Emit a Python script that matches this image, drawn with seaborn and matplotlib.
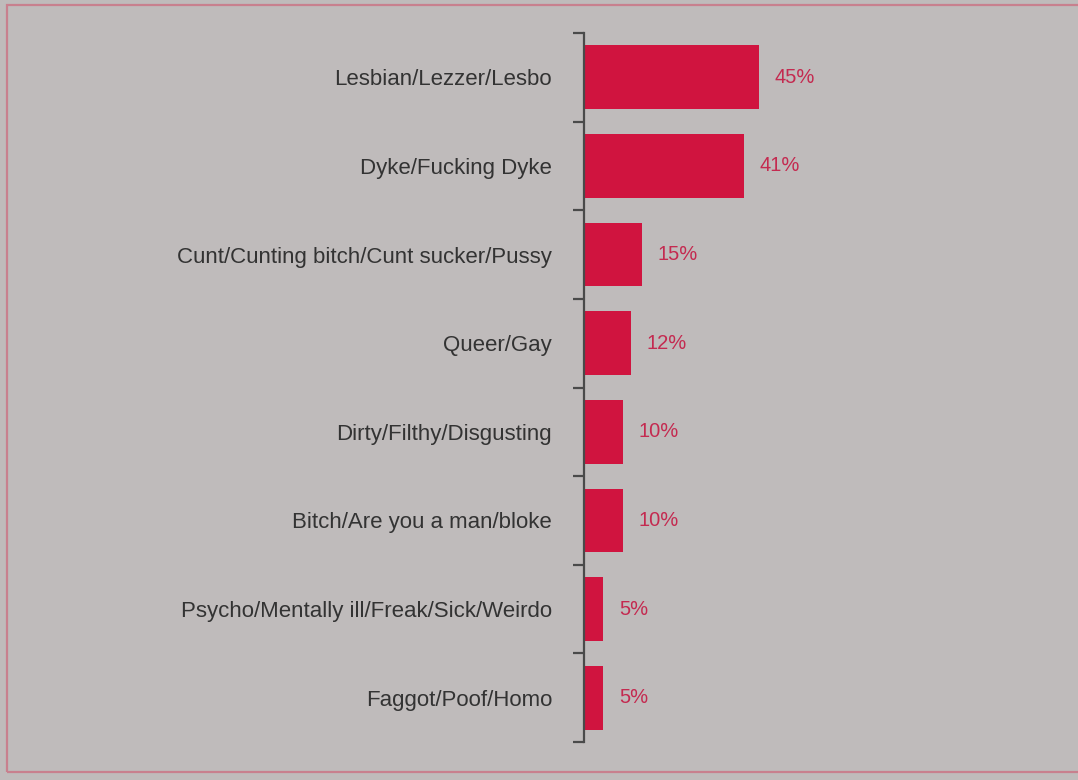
import matplotlib
matplotlib.use("Agg")
import matplotlib.pyplot as plt
from matplotlib.patches import Rectangle
import pandas as pd
import seaborn as sns

categories = [
    "Lesbian/Lezzer/Lesbo",
    "Dyke/Fucking Dyke",
    "Cunt/Cunting bitch/Cunt sucker/Pussy",
    "Queer/Gay",
    "Dirty/Filthy/Disgusting",
    "Bitch/Are you a man/bloke",
    "Psycho/Mentally ill/Freak/Sick/Weirdo",
    "Faggot/Poof/Homo",
]
percent = [45, 41, 15, 12, 10, 10, 5, 5]

bg = "#bfbbbb"
bar_red = "#d0143f"
text_red = "#c42a50"

sns.set_style("white")
plt.rcParams["font.family"] = ["Liberation Sans", "DejaVu Sans"]

df = pd.DataFrame({"Category": categories, "Percent": percent})

fig = plt.figure(figsize=(10.78, 7.8), dpi=100, facecolor=bg)
ax = fig.add_axes([584 / 1078, 1 - 742 / 780, 1 - 584 / 1078, (742 - 33) / 780])
ax.set_facecolor(bg)

sns.barplot(data=df, y="Category", x="Percent", orient="h", color=bar_red,
            saturation=1, width=0.72, ax=ax)
for bar in ax.patches:
    bar.set_edgecolor("none")

ax.bar_label(ax.containers[0], labels=[f"{p}%" for p in percent],
             padding=11, color=text_red, fontsize=14.5)

ax.set_xlim(0, 126.7)
ax.set_ylim(len(categories) - 0.5, -0.5)

# labels sit at bar centres, tick marks at the boundaries between bars
ax.set_yticks([i - 0.5 for i in range(len(categories) + 1)])
ax.set_yticklabels([])
ax.set_yticks(range(len(categories)), minor=True)
ax.set_yticklabels(categories, minor=True, fontsize=16, color="#333333")
ax.tick_params(axis="y", which="major", length=8, width=1.6, color="#4a4a4a", direction="out", left=True)
ax.tick_params(axis="y", which="minor", length=0, pad=23)

ax.set_xticks([])
ax.set(xlabel="", ylabel="")
for side in ["top", "right", "bottom"]:
    ax.spines[side].set_visible(False)
ax.spines["left"].set_color("#4a4a4a")
ax.spines["left"].set_linewidth(1.6)

# thin red frame round the page
fig.patches.append(Rectangle((7 / 1078, 8 / 780), 1.2, 1 - 13 / 780, transform=fig.transFigure,
                             fill=False, edgecolor="#c8808e", linewidth=1.6))

fig.savefig("out.png", dpi=100, facecolor=bg)
